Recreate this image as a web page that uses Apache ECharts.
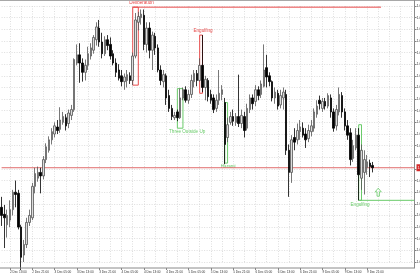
<!DOCTYPE html>
<html><head><meta charset="utf-8">
<script src="https://cdn.jsdelivr.net/npm/echarts@6/dist/echarts.min.js"></script>
<style>html,body{margin:0;padding:0;background:#fff}#c{width:420px;height:280px}</style>
</head><body><div id="c"></div>
<script>
// Hourly candles, 2 Dec 10:00 -> 9 Dec 23:00 (prices)
const opens = [1.0447,1.0441,1.0432,1.0436,1.0445,1.0460,1.0459,1.0430,1.0406,1.0415,1.0434,1.0438,1.0465,1.0472,1.0477,1.0474,1.0488,1.0496,1.0505,1.0510,
1.0516,1.0514,1.0520,1.0524,1.0519,1.0526,1.0531,1.0571,1.0578,1.0571,1.0563,1.0569,1.0577,1.0582,1.0591,1.0601,1.0589,1.0579,1.0591,1.0587,
1.0579,1.0571,1.0565,1.0560,1.0555,1.0556,1.0560,1.0556,1.0577,1.0606,1.0610,1.0612,1.0587,1.0601,1.0582,1.0594,1.0584,1.0565,1.0555,1.0560,
1.0543,1.0532,1.0524,1.0529,1.0524,1.0541,1.0548,1.0539,1.0544,1.0555,1.0562,1.0556,1.0569,1.0550,1.0556,1.0544,1.0541,1.0532,1.0539,1.0544,
1.0537,1.0507,1.0520,1.0525,1.0520,1.0525,1.0519,1.0525,1.0515,1.0531,1.0541,1.0538,1.0548,1.0544,1.0551,1.0567,1.0560,1.0555,1.0541,1.0545,
1.0535,1.0541,1.0544,1.0496,1.0477,1.0507,1.0505,1.0512,1.0515,1.0510,1.0506,1.0512,1.0515,1.0527,1.0539,1.0532,1.0538,1.0534,1.0541,1.0529,
1.0517,1.0529,1.0543,1.0529,1.0517,1.0511,1.0489,1.0498,1.0509,1.0472,1.0477,1.0481,1.0485,1.0483];
const closes = [1.0440,1.0438,1.0440,1.0445,1.0460,1.0458,1.0430,1.0404,1.0415,1.0434,1.0440,1.0465,1.0476,1.0477,1.0474,1.0488,1.0499,1.0505,1.0512,1.0517,
1.0513,1.0522,1.0525,1.0517,1.0528,1.0531,1.0574,1.0578,1.0571,1.0563,1.0569,1.0579,1.0584,1.0593,1.0602,1.0589,1.0579,1.0591,1.0586,1.0577,
1.0571,1.0563,1.0558,1.0555,1.0559,1.0561,1.0556,1.0577,1.0608,1.0611,1.0613,1.0587,1.0601,1.0582,1.0595,1.0584,1.0565,1.0556,1.0561,1.0541,
1.0532,1.0525,1.0526,1.0524,1.0541,1.0548,1.0539,1.0544,1.0556,1.0562,1.0556,1.0569,1.0550,1.0557,1.0542,1.0539,1.0531,1.0539,1.0545,1.0548,
1.0501,1.0518,1.0525,1.0521,1.0525,1.0519,1.0526,1.0513,1.0532,1.0541,1.0536,1.0548,1.0543,1.0553,1.0565,1.0559,1.0555,1.0541,1.0546,1.0534,
1.0543,1.0546,1.0496,1.0477,1.0505,1.0503,1.0513,1.0516,1.0509,1.0505,1.0513,1.0517,1.0529,1.0534,1.0536,1.0538,1.0534,1.0543,1.0529,1.0515,
1.0531,1.0544,1.0529,1.0517,1.0509,1.0488,1.0500,1.0509,1.0475,1.0496,1.0488,1.0486,1.0482,1.0481];
const lows = [1.0431,1.0412,1.0421,1.0430,1.0440,1.0447,1.0428,1.0393,1.0400,1.0412,1.0431,1.0436,1.0459,1.0469,1.0459,1.0471,1.0485,1.0494,1.0501,1.0507,
1.0510,1.0511,1.0518,1.0513,1.0515,1.0522,1.0529,1.0569,1.0554,1.0555,1.0556,1.0565,1.0574,1.0579,1.0586,1.0585,1.0575,1.0577,1.0582,1.0574,
1.0569,1.0559,1.0556,1.0551,1.0548,1.0550,1.0553,1.0552,1.0575,1.0599,1.0604,1.0582,1.0580,1.0575,1.0565,1.0578,1.0563,1.0552,1.0550,1.0535,
1.0529,1.0522,1.0522,1.0521,1.0523,1.0539,1.0537,1.0536,1.0541,1.0550,1.0551,1.0555,1.0546,1.0539,1.0538,1.0536,1.0528,1.0529,1.0535,1.0539,
1.0484,1.0503,1.0518,1.0517,1.0517,1.0516,1.0515,1.0507,1.0513,1.0528,1.0531,1.0534,1.0539,1.0541,1.0550,1.0550,1.0551,1.0538,1.0536,1.0531,
1.0532,1.0531,1.0492,1.0456,1.0468,1.0496,1.0501,1.0505,1.0507,1.0498,1.0503,1.0508,1.0512,1.0524,1.0531,1.0529,1.0531,1.0532,1.0524,1.0512,
1.0513,1.0526,1.0524,1.0513,1.0505,1.0483,1.0486,1.0496,1.0453,1.0462,1.0458,1.0475,1.0473,1.0477];
const highs = [1.0456,1.0449,1.0445,1.0453,1.0462,1.0470,1.0462,1.0432,1.0419,1.0438,1.0445,1.0468,1.0481,1.0482,1.0481,1.0491,1.0502,1.0508,1.0515,1.0520,
1.0522,1.0533,1.0529,1.0527,1.0531,1.0535,1.0575,1.0587,1.0588,1.0575,1.0574,1.0585,1.0588,1.0595,1.0606,1.0608,1.0597,1.0594,1.0595,1.0593,
1.0582,1.0575,1.0570,1.0565,1.0562,1.0565,1.0563,1.0580,1.0614,1.0615,1.0617,1.0617,1.0606,1.0606,1.0598,1.0597,1.0587,1.0569,1.0565,1.0562,
1.0548,1.0535,1.0529,1.0531,1.0549,1.0550,1.0551,1.0548,1.0561,1.0565,1.0565,1.0575,1.0595,1.0560,1.0558,1.0548,1.0544,1.0544,1.0565,1.0552,
1.0541,1.0524,1.0529,1.0531,1.0528,1.0561,1.0531,1.0529,1.0536,1.0544,1.0544,1.0552,1.0551,1.0556,1.0587,1.0578,1.0563,1.0556,1.0550,1.0548,
1.0548,1.0550,1.0548,1.0501,1.0509,1.0515,1.0519,1.0522,1.0520,1.0515,1.0518,1.0522,1.0532,1.0539,1.0543,1.0541,1.0541,1.0545,1.0544,1.0532,
1.0535,1.0550,1.0546,1.0532,1.0522,1.0515,1.0505,1.0515,1.0515,1.0501,1.0496,1.0492,1.0488,1.0486];

const bidPrice = 1.0481;
// pattern boxes
const patternNames  = ['Deliberation','Engulfing','Three Outside Up','Harami','Engulfing'];
const patternFrom   = [47, 71, 63, 80, 128];
const patternTo     = [49, 72, 65, 81, 129];
const patternTop    = [1.0619, 1.0595, 1.0549, 1.0537, 1.0518];
const patternBottom = [1.0552, 1.0545, 1.0515, 1.0485, 1.0453];
const patternBull   = [false, false, true, true, true];
const deliberationLevel = 1.0619, deliberationEnd = 136;
const engulfLevel = 1.0453;
const arrowBar = 135, arrowPrice = 1.0460;

// time categories (with empty future slots on the right)
const days = [['2 Dec',10],['3 Dec',0],['4 Dec',0],['5 Dec',0],['6 Dec',0],['9 Dec',0],['10 Dec',0]];
const totalSlots = 149;
const categories = [];
for (const [d,h0] of days) for (let h=h0; h<24 && categories.length<totalSlots; h++)
  categories.push(d+' '+String(h).padStart(2,'0')+':00');
const hourOf = v => parseInt(v.slice(-5,-3),10);

const RED='#e84a4a', GREEN='#6acb6a';
const candles = opens.map((o,i)=>[o, closes[i], lows[i], highs[i]]);

const labelOffsets = [[6,0],[2,0],[7,0],[2,0],[0,0]];
const areas = patternNames.map((n,k)=>{
  const col = patternBull[k]?GREEN:RED;
  return [{name:n, coord:[patternFrom[k], patternTop[k]],
    itemStyle:{color:'rgba(0,0,0,0)', borderColor:col, borderWidth:1},
    label:{show:true, position: patternBull[k]?'bottom':'top', distance:1, offset:labelOffsets[k],
      color:col, fontSize:4.6, fontFamily:'Liberation Sans'}},
    {coord:[patternTo[k], patternBottom[k]]}];
});

function levelSeries(x0, x1, y, color, withLabel){
  const s = {type:'line', data:[[x0,y],[x1,y]], symbol:'none', silent:true, z:3,
    lineStyle:{color:color, width:1, type:'solid'}, itemStyle:{color:color}, animation:false};
  if (withLabel) s.endLabel = {show:true, formatter:y.toFixed(4), backgroundColor:'#d42a2a', color:'#fff',
    fontSize:3.6, padding:[1.5,1], distance:2};
  return s;
}

const chart = echarts.init(document.getElementById('c'), null, {renderer:'canvas'});
chart.setOption({
  animation:false,
  backgroundColor:'#fff',
  textStyle:{fontFamily:'Liberation Sans'},
  grid:{left:1.6, right:5.5, top:6, bottom:18, containLabel:false, outerBoundsMode:'none'},
  xAxis:{type:'category', data:categories, boundaryGap:false, offset:6,
    axisLine:{show:false},
    axisTick:{show:true, length:2, interval:(i,v)=>i<opens.length && hourOf(v)%8===5, lineStyle:{color:'#666', width:0.8}},
    axisLabel:{interval:(i,v)=>i<opens.length && hourOf(v)%8===5, align:'left', fontSize:3.1, color:'#333', margin:2.5,
      hideOverlap:false, formatter:v=>v},
    splitLine:{show:true, interval:(i,v)=>hourOf(v)%4===1, lineStyle:{color:'#d6d6d6', type:[1,1.5], width:0.8}}},
  yAxis:{type:'value', position:'right', min:1.04, max:1.062, interval:0.001, scale:true,
    axisLine:{show:false},
    axisTick:{show:true, length:2, lineStyle:{color:'#666', width:0.8}},
    axisLabel:{fontSize:3.6, color:'#333', margin:2, formatter:v=>v.toFixed(4)},
    splitLine:{show:true, lineStyle:{color:'#d6d6d6', type:[1,1.5], width:0.8}}},
  graphic:[
    {type:'line', shape:{x1:0,y1:0.5,x2:420,y2:0.5}, style:{stroke:'#a8a8a8', lineWidth:1}, z:100},
    {type:'line', shape:{x1:414.5,y1:0,x2:414.5,y2:268}, style:{stroke:'#8a8a8a', lineWidth:1}, z:100},
    {type:'line', shape:{x1:0,y1:268,x2:415,y2:268}, style:{stroke:'#8a8a8a', lineWidth:1}, z:100}
  ],
  series:[
    levelSeries(0, totalSlots-1, bidPrice, '#e06a6a', true),
    levelSeries(patternFrom[0], deliberationEnd, deliberationLevel, RED, false),
    levelSeries(patternFrom[4], totalSlots-1, engulfLevel, GREEN, false),
    {
    type:'candlestick', data:candles, clip:false, barWidth:2, z:4,
    itemStyle:{color:'#dcdcdc', color0:'#000', borderColor:'#555', borderColor0:'#000', borderWidth:0.8},
    markArea:{silent:true, data:areas},
    markPoint:{silent:true, data:[{coord:[arrowBar, arrowPrice],
      symbol:'path://M5,0 L10,5 L7,5 L7,11 L3,11 L3,5 L0,5 Z', symbolSize:[6,8],
      itemStyle:{color:'rgba(0,0,0,0)', borderColor:GREEN, borderWidth:0.8}, label:{show:false}}]}
  }]
});
</script></body></html>
